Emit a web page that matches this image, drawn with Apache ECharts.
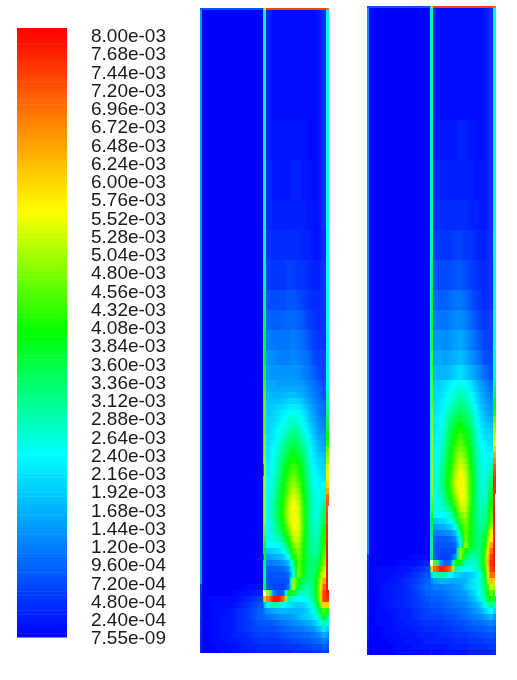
<!DOCTYPE html>
<html><head><meta charset="utf-8">
<style>html,body{margin:0;padding:0;background:#fff}#c{width:517px;height:680px}</style>
<script src="https://cdn.jsdelivr.net/npm/echarts@6/dist/echarts.min.js"></script>
</head><body><div id="c"></div>
<script>
// contour levels printed beside the colour bar
const tickLabels=['8.00e-03','7.68e-03','7.44e-03','7.20e-03','6.96e-03','6.72e-03','6.48e-03','6.24e-03','6.00e-03','5.76e-03','5.52e-03','5.28e-03','5.04e-03','4.80e-03','4.56e-03','4.32e-03','4.08e-03','3.84e-03','3.60e-03','3.36e-03','3.12e-03','2.88e-03','2.64e-03','2.40e-03','2.16e-03','1.92e-03','1.68e-03','1.44e-03','1.20e-03','9.60e-04','7.20e-04','4.80e-04','2.40e-04','7.55e-09'];
// bin edges along the width
const widthBins=[0,2,8,14,20,26,32,38,44,50,56,63,64,66,71,76,81,86,91,96,101,106,111,116,121,126,129];
const thinColumns=[0,11,12,25];
// bin edges along the height of each domain
const heightBins1=[0,2,32,72,112,152,192,222,252,282,302,322,342,357,372,378,384,390,396,402,408,414,420,426,432,438,444,450,456,462,468,474,480,486,492,498,504,510,516,522,528,534,540,546,552,558,564,570,576,582,588,594,600,606,612,618,624,630,636,642,645];
const heightBins2=[0,2,34,74,114,154,194,224,254,284,304,324,344,359,374,380,386,392,398,404,410,416,422,428,434,440,446,452,458,464,470,476,482,488,494,500,506,512,518,524,530,536,542,548,554,560,566,572,578,584,590,596,602,608,614,620,626,632,638,644,649];
// rows where the rim stops a little short of the frame
const rimGap1=[35,48], rimGap2=[33,49];
// annulus left of the tube, pure low-level region (wall then ten bins)
const B=[14,0,0,0,0,0,0,0,0,0,0];
// values in units of 1e-4; null = no data (white)
const field1=[
[8,8,8,8,8,8,8,8,8,8,8,20,60,74,74,74,74,74,74,74,74,74,74,74,74,70],
[...B,22,30,3,1,1,1,1,1,1,1,1,1,2,5,26],
[...B,22,30,3,1,1,1,1,1,1,1,1,1,2,5,26],
[...B,22,30,3,1,1,1,1,1,1,1,1,1,2,5,26],
[...B,22,30,3,2,2,2,2,2,2,2,1,1,2,5,26],
[...B,22,30,4,2,2,2,2,3,3,2,2,1,2,5,26],
[...B,22,30,4,3,3,3,3,3,3,3,2,2,2,5,26],
[...B,22,30,5,4,4,4,4,4,4,3,3,2,2,4,25],
[...B,22,32,6,5,5,5,6,6,5,5,4,3,3,5,25],
[...B,22,34,8,7,7,7,8,8,7,6,5,4,4,5,25],
[...B,22,36,10,9,9,9,10,10,9,8,6,5,4,5,24],
[...B,22,38,12,11,11,11,11,12,11,10,8,6,5,5,24],
[...B,22,40,14,13,12,12,12,13,12,11,10,7,6,6,25],
[...B,22,42,15,14,14,14,14,14,14,12,11,9,7,6,25],
[...B,22,44,16,16,15,15,15,15,15,14,12,11,9,7,25],
[...B,22,44,17,16,16,16,16,16,16,15,13,11,10,8,26],
[...B,22,46,18,17,17,17,18,18,17,16,14,12,10,8,28],
[...B,22,46,18,18,18,19,20,20,20,18,15,13,11,9,30],
[...B,22,46,19,19,20,21,22,23,22,20,17,14,12,10,30],
[...B,22,46,19,20,21,23,24,25,24,22,18,15,12,10,32],
[...B,22,46,20,20,22,24,26,27,26,23,19,16,13,11,34],
[...B,22,46,20,21,23,25,27,29,27,25,21,17,14,12,36],
[...B,22,46,20,22,24,26,29,31,29,26,22,18,15,13,38],
[...B,22,48,21,22,25,28,31,33,31,28,24,19,16,14,40],
[...B,22,48,21,23,26,30,33,35,33,30,25,20,17,15,42],
[...B,22,48,22,24,27,32,35,37,35,32,26,21,18,16,46],
[...B,22,48,22,24,28,33,37,40,37,33,27,22,19,18,48],
[...B,24,50,22,25,29,35,39,42,39,35,28,23,20,19,50],
[...B,78,50,23,25,30,36,41,44,41,36,29,24,21,20,52],
[...B,78,50,23,26,31,37,42,46,42,37,30,25,22,21,54],
[...B,24,50,24,27,32,38,44,48,44,38,31,25,23,22,58],
[...B,24,50,24,27,33,39,46,50,46,39,31,26,23,24,60],
[...B,24,50,25,28,34,40,47,52,48,40,32,26,24,26,64],
[...B,24,50,25,29,35,41,49,54,50,41,32,27,25,28,70],
[...B,24,50,26,30,36,42,51,56,52,42,33,27,25,30,72],
[...B,24,50,26,30,36,43,52,57,53,43,33,27,26,33,72],
[...B,24,50,26,30,36,43,52,57,53,43,33,27,26,34,74],
[...B,24,50,25,29,35,42,51,57,54,43,33,28,26,36,74],
[...B,24,48,25,28,33,40,48,56,54,44,33,28,27,38,76],
[...B,24,46,25,27,31,37,45,54,53,43,33,28,28,40,76],
[...B,24,44,26,26,28,33,41,52,52,42,33,29,29,42,76],
[...B,22,42,24,24,25,28,36,48,50,41,33,30,30,42,78],
[...B,20,40,19,20,21,24,31,44,48,41,33,30,31,44,78],
[...B,78,38,15,16,17,19,25,39,47,41,34,31,33,46,78],
[...B,20,36,12,12,13,14,18,33,46,40,34,32,35,48,78],
[...B,20,34,9,9,9,10,13,27,47,39,34,33,38,52,78],
[...B,20,34,8,8,8,8,10,24,48,38,34,33,41,58,78],
[...B,20,34,8,7,7,7,8,50,40,34,32,33,44,64,78],
[6,0,0,0,0,0,0,0,1,1,1,20,36,9,6,6,6,10,52,36,31,30,33,46,70,78],
[5,0,0,0,0,0,1,1,1,2,3,null,null,50,12,8,10,38,42,29,27,28,33,46,74,78],
[5,0,1,1,1,1,1,2,3,4,6,40,62,68,78,78,70,30,26,24,24,26,32,44,74,76],
[5,0,1,1,1,1,2,3,4,6,8,12,18,26,30,28,24,22,20,19,20,23,28,38,60,60],
[5,0,1,1,1,2,3,4,5,7,9,10,12,14,16,17,17,17,17,17,18,20,25,33,44,42],
[5,0,1,1,2,2,3,4,5,7,9,10,10,11,12,13,14,14,15,17,19,20,22,27,38,30],
[4,0,1,1,2,2,3,4,5,6,8,8,8,8,9,10,11,12,13,14,15,16,18,22,30,24],
[4,0,1,1,2,2,3,4,5,6,7,7,7,7,7,8,9,10,11,11,12,13,14,17,22,18],
[4,0,1,1,2,2,3,3,4,5,6,6,6,6,6,7,7,8,9,9,10,10,11,13,16,14],
[3,0,1,1,1,2,2,3,3,4,5,5,5,5,5,5,6,6,7,7,8,8,9,10,12,10],
[3,0,0,1,1,1,2,2,3,3,4,4,4,4,4,4,5,5,5,5,6,6,7,7,9,8],
[3,0,0,0,1,1,1,2,2,2,3,3,3,3,3,3,3,3,4,4,4,4,5,5,6,6]
];
const field2=[
[8,8,8,8,8,8,8,8,8,8,8,20,60,74,74,74,74,74,74,74,74,74,74,74,74,70],
[...B,24,32,3,1,1,1,1,1,1,1,1,1,2,5,26],
[...B,24,32,3,1,1,1,1,1,1,1,1,1,2,5,26],
[...B,24,32,3,1,1,1,1,1,1,1,1,1,2,5,26],
[...B,24,32,3,2,2,2,2,3,3,2,2,1,2,5,26],
[...B,24,32,4,3,3,3,3,3,3,3,2,2,2,5,26],
[...B,24,32,5,4,4,4,4,4,4,3,3,2,2,5,26],
[...B,24,34,6,5,5,5,6,6,5,5,4,3,3,5,25],
[...B,24,36,8,7,7,7,8,8,7,6,5,4,4,5,25],
[...B,24,38,10,9,9,10,11,11,10,8,6,5,4,5,25],
[...B,24,40,12,11,11,12,13,13,12,10,8,6,5,6,24],
[...B,24,42,14,14,13,14,15,16,14,12,10,8,6,6,24],
[...B,24,44,16,16,15,16,17,18,16,14,12,10,7,7,26],
[...B,24,44,18,17,17,18,20,21,19,17,15,12,10,8,28],
[...B,24,46,19,20,21,23,24,25,24,22,18,15,12,10,30],
[...B,24,46,20,20,22,24,26,27,26,23,19,16,13,11,34],
[...B,24,46,20,21,23,25,27,29,27,25,21,17,14,12,36],
[...B,24,46,20,22,24,26,29,31,29,26,22,18,15,13,38],
[...B,24,46,21,22,25,28,31,33,31,28,24,19,16,14,40],
[...B,24,48,21,23,26,30,33,35,33,30,25,20,17,15,42],
[...B,24,48,22,24,27,32,35,37,35,32,26,21,18,16,46],
[...B,24,48,22,24,28,33,37,40,37,33,27,22,19,18,48],
[...B,24,50,22,25,29,35,39,42,39,35,28,23,20,19,50],
[...B,24,50,23,25,30,36,41,44,41,36,29,24,21,20,52],
[...B,24,50,23,26,31,37,42,46,42,37,30,25,22,21,56],
[...B,24,50,24,27,32,38,44,48,44,38,31,25,23,22,60],
[...B,24,50,24,27,33,39,46,50,46,39,31,26,23,24,64],
[...B,24,50,25,28,34,40,47,52,48,40,32,26,24,26,68],
[...B,24,50,25,29,35,41,49,54,50,41,32,27,25,28,72],
[...B,24,50,26,30,36,42,51,56,52,42,33,27,25,30,74],
[...B,24,50,26,30,36,43,52,57,53,43,33,27,26,33,76],
[...B,24,50,26,30,36,43,52,57,53,43,33,27,26,34,76],
[...B,24,50,25,29,35,42,51,57,54,43,33,28,26,36,76],
[...B,24,48,25,28,33,40,48,56,54,44,33,28,27,38,76],
[...B,24,46,25,27,31,37,45,54,53,43,33,28,28,40,76],
[...B,24,44,26,26,28,33,41,52,52,42,33,29,29,42,78],
[...B,22,42,24,24,25,28,36,48,50,41,33,30,30,44,78],
[...B,20,40,19,20,21,24,31,44,48,41,33,30,31,46,78],
[...B,20,38,15,16,17,19,25,39,47,41,34,31,33,50,78],
[...B,20,36,12,12,13,14,18,33,46,40,34,32,35,54,78],
[...B,20,34,9,9,9,10,13,27,47,39,34,33,38,58,78],
[...B,20,34,8,8,8,8,10,24,50,38,34,33,41,64,78],
[...B,20,34,8,7,7,7,8,50,40,34,32,33,44,70,78],
[6,0,0,0,0,0,0,0,1,1,1,20,36,9,6,6,7,14,50,34,30,30,33,46,74,78],
[5,0,0,0,0,0,1,1,1,2,3,null,null,45,14,9,11,42,38,29,27,28,33,46,76,78],
[5,0,1,1,1,1,2,2,3,4,6,40,60,70,78,76,70,30,26,24,24,26,31,43,74,76],
[5,0,1,1,1,2,2,3,4,6,8,12,20,28,30,28,24,20,19,18,19,21,27,39,70,70],
[5,0,1,1,2,2,3,4,5,7,9,11,13,15,17,17,16,16,16,17,20,23,28,37,62,60],
[5,0,1,2,2,3,3,4,6,8,10,10,11,12,12,13,13,14,15,18,21,22,27,34,52,50],
[4,0,1,2,2,3,3,4,5,7,9,9,10,10,10,11,12,13,14,15,18,21,26,33,46,42],
[4,0,1,2,2,3,3,4,5,6,8,8,9,9,9,10,11,12,13,14,16,19,23,31,42,36],
[4,0,1,1,2,3,3,4,5,6,7,8,8,8,8,9,10,11,11,12,14,16,19,25,32,28],
[4,0,1,1,2,2,3,3,4,5,6,7,7,7,7,8,9,9,10,11,12,14,16,20,24,20],
[3,0,1,1,1,2,3,3,4,5,6,6,6,6,6,7,7,8,9,10,11,12,13,15,17,14],
[3,0,1,1,1,2,2,3,3,4,5,5,5,5,5,6,6,7,7,8,9,10,10,11,12,11],
[3,0,0,1,1,2,2,2,3,3,4,4,4,4,4,5,5,6,6,7,7,8,8,9,10,9],
[3,0,0,1,1,1,2,2,2,3,3,3,3,3,4,4,4,5,5,5,6,6,7,7,8,7],
[2,0,0,0,1,1,1,2,2,2,3,3,3,3,3,3,3,4,4,4,5,5,5,6,6,6],
[2,0,0,0,0,1,1,1,2,2,2,2,2,2,2,2,3,3,3,3,4,4,4,4,5,5],
[2,0,0,0,0,0,1,1,1,1,1,2,2,1,1,2,2,2,2,2,3,3,3,3,3,4]
];
const scaleMax=80;
const palette=['#0000ff','#0055ff','#00aaff','#00ffff','#00ff80','#00ff00','#80ff00','#ffff00','#ffaa00','#ff5500','#ff0000'];
const colourOf=v=>echarts.color.lerp(Math.max(0,Math.min(1,v/scaleMax)),palette);

function cells(field,hb,gap){
  const out=[];
  field.forEach((row,r)=>row.forEach((v,c)=>{
    if(v===null) return;
    const blend=n=>(n>=0&&n<row.length&&row[n]!==null&&!thinColumns.includes(n)&&!thinColumns.includes(c))?(v+row[n])/2:v;
    let right=widthBins[c+1];
    if(c===row.length-1&&r>=gap[0]&&r<=gap[1]) right=128;
    out.push([widthBins[c],right,hb[r],hb[r+1],v,blend(c-1),blend(c+1)]);
  }));
  return out;
}
function renderCell(p,api){
  const a=api.coord([api.value(0),api.value(2)]), b=api.coord([api.value(1),api.value(3)]);
  const fill=new echarts.graphic.LinearGradient(0,0,1,0,[
    {offset:0,color:colourOf(api.value(5))},
    {offset:0.5,color:colourOf(api.value(4))},
    {offset:1,color:colourOf(api.value(6))}]);
  return {type:'rect',shape:{x:a[0],y:a[1],width:b[0]-a[0],height:b[1]-a[1]},style:{fill}};
}
function renderBand(p,api){
  const a=api.coord([0,api.value(1)]), b=api.coord([1,api.value(0)]);
  return {type:'rect',shape:{x:a[0],y:a[1],width:b[0]-a[0],height:b[1]-a[1]+0.5},style:{fill:colourOf((api.value(0)+api.value(1))/2)}};
}
// colour key: fine bands across the scale
const keyBands=[];
for(let i=0;i<scaleMax*2;i++) keyBands.push([i/2,(i+1)/2]);

const panel=(i,d)=>({type:'custom',xAxisIndex:i,yAxisIndex:i,data:d,renderItem:renderCell,encode:{x:[0,1],y:[2,3]},silent:true,animation:false,progressive:0});
const hiddenX=i=>({type:'value',gridIndex:i,min:0,max:129,show:false});
const hiddenY=(i,m)=>({type:'value',gridIndex:i,min:0,max:m,inverse:true,show:false});

const chart=echarts.init(document.getElementById('c'),null,{renderer:'canvas'});
chart.setOption({
  animation:false,backgroundColor:'#fff',
  grid:[
    {left:200,top:8,width:129,height:645},
    {left:367,top:6,width:129,height:649},
    {left:91,top:37,width:1,height:602},
    {left:17,top:28,width:50,height:609}
  ],
  xAxis:[hiddenX(0),hiddenX(1),{type:'value',gridIndex:2,show:false},{type:'value',gridIndex:3,min:0,max:1,show:false}],
  yAxis:[hiddenY(0,645),hiddenY(1,649),{
    type:'category',gridIndex:2,data:tickLabels,inverse:true,boundaryGap:false,position:'left',
    axisLine:{show:false},axisTick:{show:false},splitLine:{show:false},
    axisLabel:{inside:true,margin:0,interval:0,hideOverlap:false,align:'left',fontFamily:'"Liberation Sans",Arial,sans-serif',fontSize:19,color:'#1a1a1a'}
  },{type:'value',gridIndex:3,min:0,max:scaleMax,show:false}],
  series:[panel(0,cells(field1,heightBins1,rimGap1)),panel(1,cells(field2,heightBins2,rimGap2)),
    {type:'custom',xAxisIndex:3,yAxisIndex:3,data:keyBands,renderItem:renderBand,encode:{y:[0,1]},silent:true,animation:false}]
});
</script></body></html>
